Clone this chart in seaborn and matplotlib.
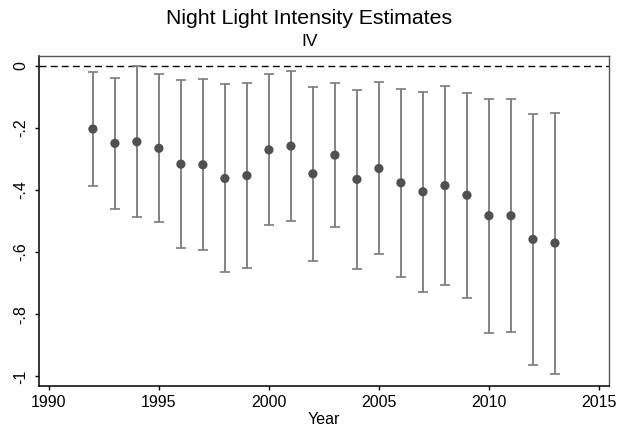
import matplotlib
matplotlib.use("Agg")
import matplotlib.pyplot as plt
import seaborn as sns
import numpy as np
import pandas as pd

years = list(range(1992, 2014))
estimate = [-0.204, -0.250, -0.245, -0.266, -0.317, -0.319, -0.363, -0.354,
            -0.271, -0.259, -0.348, -0.288, -0.366, -0.331, -0.377, -0.406,
            -0.386, -0.417, -0.483, -0.483, -0.559, -0.571]
ci_upper = [-0.022, -0.039, -0.002, -0.026, -0.047, -0.044, -0.059, -0.057,
            -0.026, -0.018, -0.069, -0.057, -0.078, -0.054, -0.076, -0.084,
            -0.064, -0.088, -0.108, -0.108, -0.155, -0.152]
ci_lower = [-0.387, -0.461, -0.487, -0.503, -0.586, -0.593, -0.664, -0.650,
            -0.514, -0.499, -0.628, -0.518, -0.655, -0.607, -0.679, -0.727,
            -0.706, -0.747, -0.862, -0.856, -0.963, -0.991]
x_ticks = [1990, 1995, 2000, 2005, 2010, 2015]
y_ticks = [0, -0.2, -0.4, -0.6, -0.8, -1.0]
y_tick_labels = ["0", "-.2", "-.4", "-.6", "-.8", "-1"]

df = pd.DataFrame({"Year": years, "est": estimate, "lo": ci_lower, "hi": ci_upper})

sns.set_theme(style="white")
plt.rcParams["font.family"] = ["Liberation Sans", "DejaVu Sans"]

W, H = 619, 433
fig = plt.figure(figsize=(W / 100, H / 100), dpi=100)
ax = fig.add_axes([39 / W, 1 - 385.7 / H, (609.3 - 39) / W, (385.7 - 55.7) / H])

err = np.vstack([df["est"] - df["lo"], df["hi"] - df["est"]])
ax.errorbar(df["Year"], df["est"], yerr=err, fmt="none", ecolor="#7a7a7a",
            elinewidth=1.3, capsize=3.5, capthick=1.2, zorder=2)
sns.scatterplot(data=df, x="Year", y="est", ax=ax, color="#505050", s=44,
                edgecolor="none", zorder=3)
ax.axhline(0, color="black", linestyle=(0, (5, 3)), linewidth=1.0, zorder=1)

ax.set_xlim(1989.55, 2015.47)
ax.set_ylim(-1.03, 0.032)
ax.set_xticks(x_ticks)
ax.set_xticklabels([str(t) for t in x_ticks])
ax.set_yticks(y_ticks)
ax.set_yticklabels(y_tick_labels, rotation=90, va="center")
ax.tick_params(axis="both", which="major", length=2.9, width=1, color="black",
               labelsize=11.5, labelcolor="black", bottom=True, left=True)
ax.tick_params(axis="x", pad=3.5)
ax.tick_params(axis="y", pad=5)
ax.set_xlabel("Year", fontsize=11.5, labelpad=2, color="black")
ax.set_ylabel("")

for side in ["left", "bottom"]:
    ax.spines[side].set_color("black")
    ax.spines[side].set_linewidth(1.1)
for side in ["top", "right"]:
    ax.spines[side].set_color("#555555")
    ax.spines[side].set_linewidth(1.0)

fig.text(0.5, 1 - 23.5 / H, "Night Light Intensity Estimates", ha="center",
         va="baseline", fontsize=15.3, color="black")
fig.text(0.5, 1 - 46.5 / H, "IV", ha="center", va="baseline", fontsize=12.5,
         color="black")

fig.savefig("out.png", dpi=100, facecolor="white")
